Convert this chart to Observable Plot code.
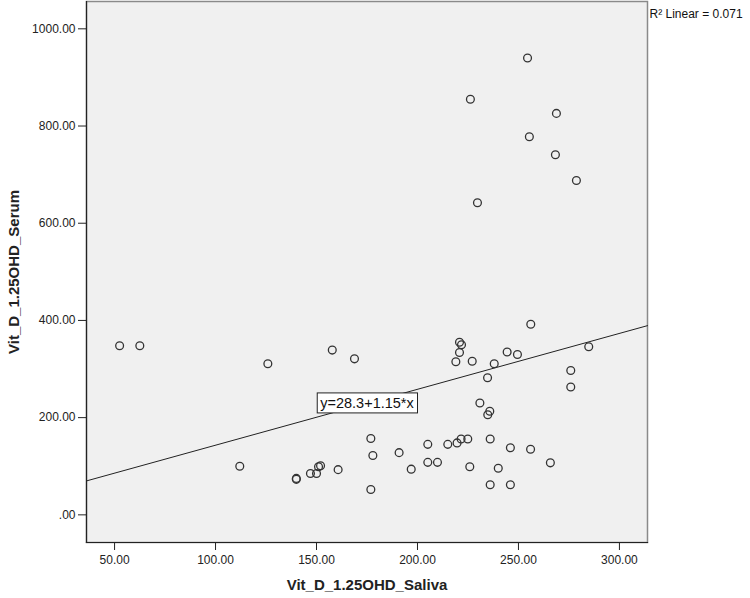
<!DOCTYPE html>
<html>
<head>
<meta charset="utf-8">
<script src="https://cdn.jsdelivr.net/npm/d3@7"></script>
<script src="https://cdn.jsdelivr.net/npm/@observablehq/plot@0.6"></script>
<style>
  html, body { margin: 0; padding: 0; background: #ffffff; }
  #chart svg { display: block; font-family: "Liberation Sans", Arial, sans-serif; }
</style>
</head>
<body>
<div id="chart"></div>
<script>
// ---- data ----
const saliva = [52.5, 62.5, 112, 125.9, 140, 140, 147, 150, 151, 152, 157.8, 160.7, 168.8,
  176.9, 177.9, 176.9, 190.9, 196.9, 205.1, 205.1, 209.9, 215, 219.6, 221.6, 224.9, 225.9,
  219, 220.8, 221.8, 220.8, 227.1, 226.2, 229.7, 230.9, 234.7, 234.8, 235.8, 236, 236, 238,
  240, 244.4, 246, 246, 249.5, 254.5, 255.4, 256.1, 256, 265.8, 268.3, 268.8, 275.9, 275.9,
  278.7, 284.8];
const serum = [348, 348, 100, 311, 73, 75, 85, 85, 99, 101, 339, 93, 321,
  157, 122, 52, 128, 94, 145, 108, 108, 145, 148, 156, 156, 99,
  315, 355, 350, 334, 316, 855, 642, 230, 282, 206, 213, 156, 62, 311,
  96, 335, 62, 138, 330, 940, 778, 392, 135, 107, 741, 826, 297, 263,
  688, 346];
const xTicks = [50, 100, 150, 200, 250, 300];
const yTicks = [0, 200, 400, 600, 800, 1000];
const xTitle = "Vit_D_1.25OHD_Saliva";
const yTitle = "Vit_D_1.25OHD_Serum";
const fitIntercept = 28.3;
const fitSlope = 1.15;
const fitLabel = "y=28.3+1.15*x";
const fitLabelAt = 175;
const r2Label = "R² Linear = 0.071";

// ---- build ----
const xDomain = [36.1, 313.9];
const yDomain = [-56.9, 1056.2];
const points = saliva.map((s, i) => ({ s, v: serum[i] }));
const fitLine = xDomain.map(x => ({ x, y: fitIntercept + fitSlope * x }));
const fmt = d => d === 0 ? ".00" : d.toFixed(2);

const chart = Plot.plot({
  width: 750,
  height: 598,
  marginLeft: 86,
  marginRight: 103,
  marginTop: 1,
  marginBottom: 56,
  style: { fontFamily: "'Liberation Sans', Arial, sans-serif", background: "#ffffff" },
  x: { domain: xDomain },
  y: { domain: yDomain },
  marks: [
    Plot.frame({ fill: "#f0f0f0", stroke: "#8a8a8a", strokeWidth: 1.5 }),
    Plot.line(fitLine, { x: "x", y: "y", stroke: "#222", strokeWidth: 1 }),
    Plot.dot(points, { x: "s", y: "v", r: 3.9, stroke: "#333", strokeWidth: 1.3, fill: "none" }),
    Plot.text([fitLabel], { x: () => fitLabelAt, y: () => fitIntercept + fitSlope * fitLabelAt,
      text: d => d, fontSize: 14.5, fill: "#111", textAnchor: "middle", lineAnchor: "middle", className: "fitlabel" }),
    Plot.axisX(xTicks, { tickSize: 8, tickPadding: 5, tickFormat: fmt, fontSize: 12, fill: "#222", stroke: "#222", label: null }),
    Plot.axisY(yTicks, { tickSize: 8, tickPadding: 3, tickFormat: fmt, fontSize: 12, fill: "#222", stroke: "#222", label: null }),
    Plot.frame({ anchor: "left", stroke: "#222", strokeWidth: 1.2 }),
    Plot.frame({ anchor: "bottom", stroke: "#222", strokeWidth: 1.2 }),
    Plot.text([xTitle], { frameAnchor: "bottom", dy: 43, text: d => d, fontSize: 15, fontWeight: "bold", fill: "#222", textAnchor: "middle", lineAnchor: "middle" }),
    Plot.text([yTitle], { frameAnchor: "left", dx: -72, rotate: -90, text: d => d, fontSize: 15, fontWeight: "bold", fill: "#222", textAnchor: "middle", lineAnchor: "middle" }),
    Plot.text([r2Label], { frameAnchor: "top-right", dx: 2, dy: 13, text: d => d, fontSize: 12, fill: "#111", textAnchor: "start", lineAnchor: "middle" })
  ]
});
document.getElementById("chart").appendChild(chart);

// white box behind the equation label
const lbl = chart.querySelector(".fitlabel text");
if (lbl) {
  const bb = lbl.getBBox();
  const rect = document.createElementNS("http://www.w3.org/2000/svg", "rect");
  rect.setAttribute("x", bb.x - 3);
  rect.setAttribute("y", bb.y - 2);
  rect.setAttribute("width", bb.width + 6);
  rect.setAttribute("height", bb.height + 4);
  const tf = lbl.getAttribute("transform");
  if (tf) rect.setAttribute("transform", tf);
  rect.setAttribute("fill", "#ffffff");
  rect.setAttribute("stroke", "#222");
  rect.setAttribute("stroke-width", "1");
  lbl.parentNode.insertBefore(rect, lbl);
}
</script>
</body>
</html>
